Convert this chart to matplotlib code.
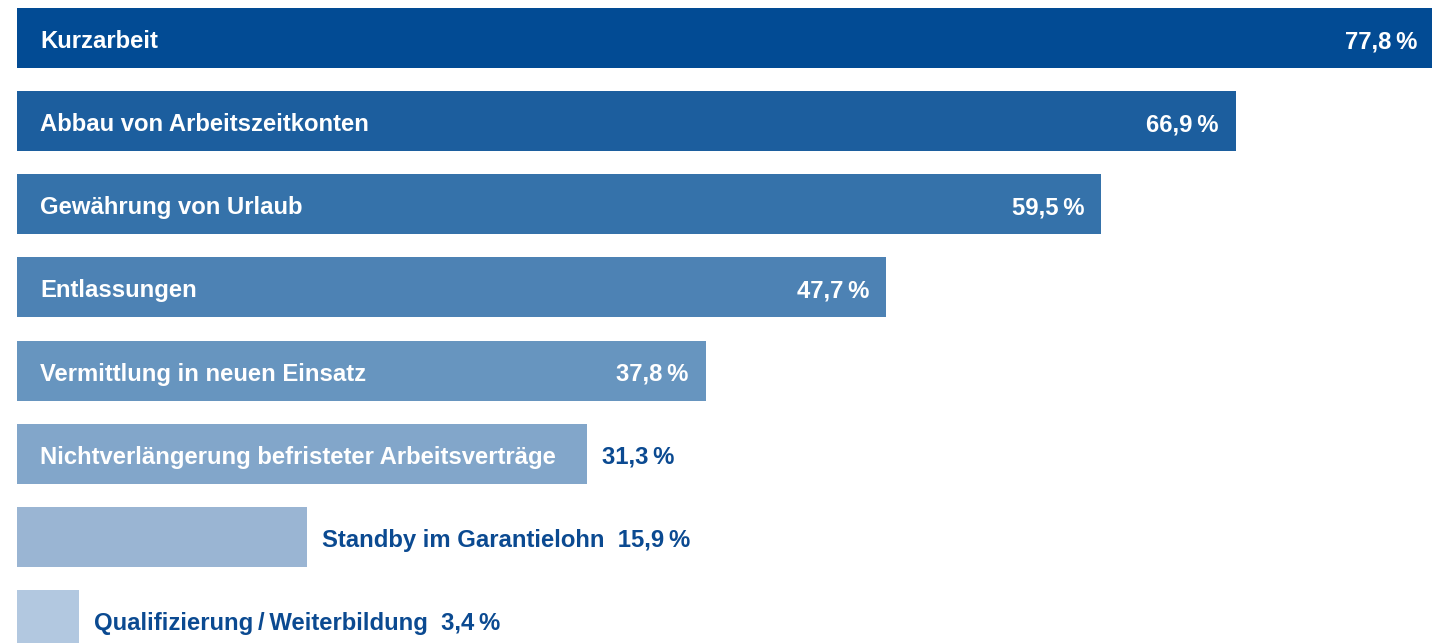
import matplotlib
matplotlib.use("Agg")
import matplotlib.pyplot as plt

# Measures taken against the corona crisis (share of companies, %)
labels = [
    "Kurzarbeit",
    "Abbau von Arbeitszeitkonten",
    "Gewährung von Urlaub",
    "Entlassungen",
    "Vermittlung in neuen Einsatz",
    "Nichtverlängerung befristeter Arbeitsverträge",
    "Standby im Garantielohn",
    "Qualifizierung\u2009/\u2009Weiterbildung",
]
values = [77.8, 66.9, 59.5, 47.7, 37.8, 31.3, 15.9, 3.4]
colors = ["#024b94", "#1c5e9e", "#3572aa", "#4d82b4",
          "#6795bf", "#82a6ca", "#9ab5d3", "#b2c8e0"]
text_dark = "#0b4a91"

W, H = 1432, 643
px_per_unit = 18.22      # pixels per percentage point
left_px = 17             # where 0 % sits
row_px = 83.14           # distance between bar centres
first_px = 38            # centre of first bar from top
bar_px = 60

fonts = ["Liberation Sans", "DejaVu Sans"]
fsize = 17.2
base_off = 10 / row_px   # baseline sits 10 px below bar centre

fig = plt.figure(figsize=(W / 100, H / 100), dpi=100)
ax = fig.add_axes([0, 0, 1, 1])
ax.set_xlim(-left_px / px_per_unit, (W - left_px) / px_per_unit)
ax.set_ylim((H - first_px) / row_px, -first_px / row_px)
ax.axis("off")

ypos = list(range(len(values)))
ax.barh(ypos, values, height=bar_px / row_px, color=colors, left=0)

fig.canvas.draw()
renderer = fig.canvas.get_renderer()


def width_units(s):
    t = ax.text(0, 0, s, fontsize=fsize, fontweight="bold", family=fonts)
    w = t.get_window_extent(renderer).width / px_per_unit
    t.remove()
    return w


pad_in = 23 / px_per_unit    # label start inside bar
pad_end = 17 / px_per_unit   # value end inside bar
pad_out = 15 / px_per_unit   # gap after bar
gap = 1.2

for y, lab, v in zip(ypos, labels, values):
    val = f"{v:.1f}".replace(".", ",") + "\u2009%"
    lw = width_units(lab)
    vw = width_units(val)
    yt = y + base_off
    kw = dict(fontsize=fsize, fontweight="bold", family=fonts, va="baseline")
    if pad_in + lw + gap + vw + pad_end <= v:
        ax.text(pad_in, yt, lab, color="white", ha="left", **kw)
        ax.text(v - pad_end, yt, val, color="white", ha="right", **kw)
    elif pad_in + lw + pad_end <= v:
        ax.text(pad_in, yt, lab, color="white", ha="left", **kw)
        ax.text(v + pad_out, yt, val, color=text_dark, ha="left", **kw)
    else:
        ax.text(v + pad_out, yt, lab + "  " + val, color=text_dark, ha="left", **kw)

fig.savefig("out.png", dpi=100)
